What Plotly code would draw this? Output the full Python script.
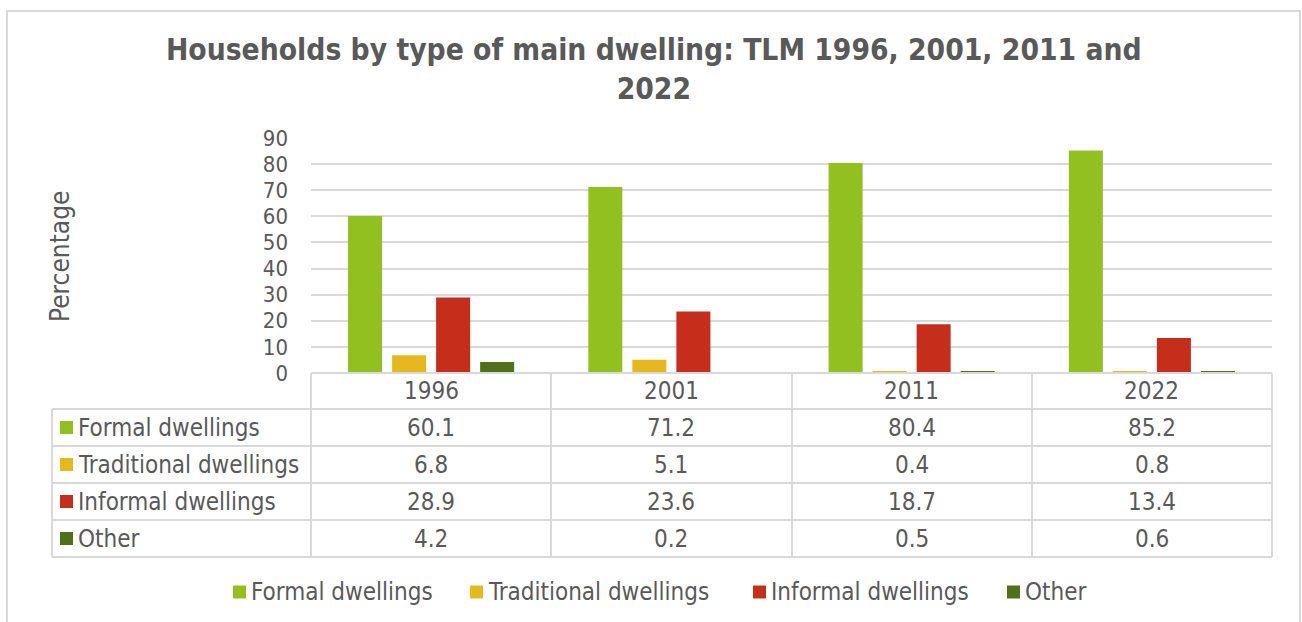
import plotly.graph_objects as go

years = ["1996", "2001", "2011", "2022"]
series_names = ["Formal dwellings", "Traditional dwellings", "Informal dwellings", "Other"]
formal = [60.1, 71.2, 80.4, 85.2]
traditional = [6.8, 5.1, 0.4, 0.8]
informal = [28.9, 23.6, 18.7, 13.4]
other = [4.2, 0.2, 0.5, 0.6]
colors = ["#92C020", "#E6B820", "#C42E1B", "#4E7119"]
y_ticks = [0, 10, 20, 30, 40, 50, 60, 70, 80, 90]

series_values = [formal, traditional, informal, other]

W, H = 1302, 622
L, R, T, B = 311, 1272, 138, 373  # plot area pixels
FONT = "DejaVu Sans Condensed, DejaVu Sans, sans-serif"
TXT = "#595959"
GRID = "#D9D9D9"
FS = 24


def px(xp):
    return (xp - L) / (R - L)


def py(yp):
    return (B - yp) / (B - T)


fig = go.Figure()
for name, vals, c in zip(series_names, series_values, colors):
    fig.add_trace(go.Bar(x=years, y=vals, name=name, marker=dict(color=c, line=dict(width=0)),
                         showlegend=False))

shapes = []
annotations = []

# outer chart border
shapes.append(dict(type="rect", xref="paper", yref="paper", x0=px(7), x1=px(1300), y0=py(640), y1=py(11),
                   line=dict(color=GRID, width=2), fillcolor="rgba(0,0,0,0)", layer="below"))

# data table grid
row_edges = [373, 409, 446, 483, 520, 557]
col_edges = [311, 551, 792, 1032, 1272]
label_left = 52
lw = 2
shapes.append(dict(type="line", xref="paper", yref="paper", x0=px(311), x1=px(1272), y0=py(373), y1=py(373),
                   line=dict(color=GRID, width=lw)))
for ye in row_edges[1:]:
    shapes.append(dict(type="line", xref="paper", yref="paper", x0=px(label_left), x1=px(1272), y0=py(ye), y1=py(ye),
                       line=dict(color=GRID, width=lw)))
for xe in col_edges:
    shapes.append(dict(type="line", xref="paper", yref="paper", x0=px(xe), x1=px(xe), y0=py(373), y1=py(557),
                       line=dict(color=GRID, width=lw)))
shapes.append(dict(type="line", xref="paper", yref="paper", x0=px(label_left), x1=px(label_left), y0=py(409), y1=py(557),
                   line=dict(color=GRID, width=lw)))

# header years (category index positions on the x axis)
for j, yr in enumerate(years):
    annotations.append(dict(x=j, xref="x", y=py((373 + 409) / 2), yref="paper", text=yr, showarrow=False,
                            font=dict(family=FONT, size=FS, color=TXT), xanchor="center", yanchor="middle"))

# rows
for i, (name, vals, c) in enumerate(zip(series_names, series_values, colors)):
    yc = (row_edges[i + 1] + row_edges[i + 2]) / 2
    shapes.append(dict(type="rect", xref="paper", yref="paper", x0=px(60), x1=px(73), y0=py(yc - 6.5), y1=py(yc + 6.5),
                       fillcolor=c, line=dict(width=0)))
    annotations.append(dict(x=px(76), xref="paper", y=py(yc), yref="paper", text=name, showarrow=False,
                            font=dict(family=FONT, size=FS, color=TXT), xanchor="left", yanchor="middle"))
    for j, v in enumerate(vals):
        annotations.append(dict(x=j, xref="x", y=py(yc), yref="paper", text=f"{v:.1f}", showarrow=False,
                                font=dict(family=FONT, size=FS, color=TXT), xanchor="center", yanchor="middle"))

# bottom legend
legend_x = [233, 470, 753, 1007]
for name, c, lx in zip(series_names, colors, legend_x):
    shapes.append(dict(type="rect", xref="paper", yref="paper", x0=px(lx), x1=px(lx + 13), y0=py(598.5), y1=py(585.5),
                       fillcolor=c, line=dict(width=0)))
    annotations.append(dict(x=px(lx + 16), xref="paper", y=py(592), yref="paper", text=name, showarrow=False,
                            font=dict(family=FONT, size=FS, color=TXT), xanchor="left", yanchor="middle"))

# y axis title
annotations.append(dict(x=px(60), xref="paper", y=py(256), yref="paper", text="Percentage", textangle=-90,
                        showarrow=False, font=dict(family=FONT, size=26, color=TXT), xanchor="center", yanchor="middle"))

# title
annotations.append(dict(x=px(654), xref="paper", y=py(69), yref="paper",
                        text="<b>Households by type of main dwelling: TLM 1996, 2001, 2011 and<br>2022</b>",
                        showarrow=False, font=dict(family=FONT, size=29.7, color=TXT), xanchor="center",
                        yanchor="middle", align="center"))

fig.update_layout(
    width=W, height=H,
    margin=dict(l=L, r=W - R, t=T, b=H - B, pad=0),
    paper_bgcolor="white", plot_bgcolor="white",
    barmode="group", bargap=0.267, bargroupgap=0.227,
    shapes=shapes, annotations=annotations,
    font=dict(family=FONT, color=TXT),
    xaxis=dict(type="category", range=[-0.5, len(years) - 0.5], showticklabels=False, showgrid=False,
               showline=False, zeroline=False, ticks=""),
    yaxis=dict(range=[0, 90], tickvals=y_ticks, showgrid=True, gridcolor=GRID, gridwidth=1.5,
               zeroline=False, showline=False, ticks="", ticklabelstandoff=22,
               tickfont=dict(family=FONT, size=22, color=TXT)),
)

fig.write_html("out.html", config={"displayModeBar": False},
               post_script="document.body.style.margin='0';")
